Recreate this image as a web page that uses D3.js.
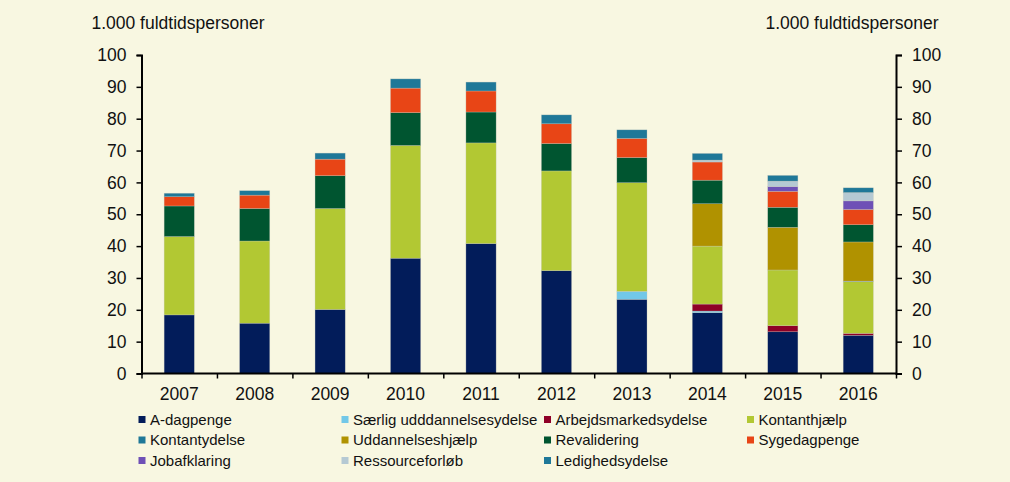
<!DOCTYPE html>
<html>
<head>
<meta charset="utf-8">
<script src="https://cdn.jsdelivr.net/npm/d3@7"></script>
<style>
body{margin:0;background:#f8f7e1;}
text{font-family:"Liberation Sans",Arial,sans-serif;fill:#111;}
</style>
</head>
<body>
<div class="canvas"></div>
<script>
// data, 1.000 fuldtidspersoner
const years=['2007','2008','2009','2010','2011','2012','2013','2014','2015','2016'];
const aDagpenge=[18.4,15.8,20.1,36.2,40.8,32.3,23.3,19.1,13.1,12.0];
const saerlig=[0,0,0,0,0,0,2.5,0.5,0,0];
const arbejdsmarked=[0,0,0,0,0,0,0,2.2,1.9,0.6];
const kontanthjaelp=[24.6,25.8,31.7,35.4,31.6,31.3,34.1,18.2,17.5,16.2];
const kontantydelse=[0,0,0,0,0,0,0,0,0,0.2];
const uddannelseshjaelp=[0,0,0,0,0,0,0,13.3,13.4,12.3];
const revalidering=[9.6,10.2,10.3,10.3,9.7,8.6,7.9,7.4,6.3,5.4];
const sygedagpenge=[2.9,4.2,5.2,7.7,6.6,6.2,6.0,5.7,5.0,4.8];
const jobafklaring=[0,0,0,0,0,0,0,0,1.5,2.7];
const ressourceforloeb=[0,0,0,0,0,0,0,0.6,1.7,2.6];
const ledighedsydelse=[1.1,1.4,1.9,2.9,2.8,2.8,2.7,2.1,1.8,1.5];
const yTicks=[0,10,20,30,40,50,60,70,80,90,100];
const unitLabel='1.000 fuldtidspersoner';

const series=[
  {key:'A-dagpenge',values:aDagpenge,color:'#021c5a'},
  {key:'Særlig udddannelsesydelse',values:saerlig,color:'#72c8e8'},
  {key:'Arbejdsmarkedsydelse',values:arbejdsmarked,color:'#8f0027'},
  {key:'Kontanthjælp',values:kontanthjaelp,color:'#b2c833'},
  {key:'Kontantydelse',values:kontantydelse,color:'#1f7898'},
  {key:'Uddannelseshjælp',values:uddannelseshjaelp,color:'#b09200'},
  {key:'Revalidering',values:revalidering,color:'#005530'},
  {key:'Sygedagpenge',values:sygedagpenge,color:'#e84516'},
  {key:'Jobafklaring',values:jobafklaring,color:'#6e50b6'},
  {key:'Ressourceforløb',values:ressourceforloeb,color:'#b5c9d3'},
  {key:'Ledighedsydelse',values:ledighedsydelse,color:'#1f7898'}
];

// one row per year for d3.stack
const table=years.map((yr,i)=>{
  const row={year:yr};
  series.forEach(s=>row[s.key]=s.values[i]);
  return row;
});

const width=1010,height=482;
const plot={left:141.5,right:896,top:55,bottom:373.5};

const svg=d3.select('.canvas').append('svg')
.attr('width',width)
.attr('height',height);

svg.append('rect').attr('width',width).attr('height',height).attr('fill','#f8f7e1');

const y=d3.scaleLinear().domain([0,100]).range([plot.bottom,plot.top]);
const x=d3.scaleBand().domain(years).range([plot.left,plot.right]).padding(0);
const xEdge=d3.scaleLinear().domain([0,years.length]).range([plot.left,plot.right]);

const stacked=d3.stack().keys(series.map(s=>s.key))(table);
const barW=x.bandwidth()*0.4;

// bars
svg.append('g').selectAll('g')
.data(stacked)
.enter().append('g')
.attr('fill',(d,i)=>series[i].color)
.selectAll('rect')
.data(d=>d)
.enter().append('rect')
.attr('x',d=>x(d.data.year)+(x.bandwidth()-barW)/2)
.attr('y',d=>y(d[1]))
.attr('width',barW)
.attr('height',d=>y(d[0])-y(d[1]))
.attr('stroke','#c9c9c0')
.attr('stroke-width',0.5)
.attr('stroke-opacity',d=>d[1]-d[0]>0?0.6:0);

// axes
const leftAxis=svg.append('g')
.attr('transform',`translate(${plot.left},0)`)
.call(d3.axisLeft(y).tickValues(yTicks).tickSize(5).tickPadding(10));

const rightAxis=svg.append('g')
.attr('transform',`translate(${plot.right},0)`)
.call(d3.axisRight(y).tickValues(yTicks).tickSize(6).tickPadding(10));

const xTicks=svg.append('g')
.attr('transform',`translate(0,${plot.bottom})`)
.call(d3.axisBottom(xEdge).tickValues(d3.range(years.length+1)).tickSize(5).tickFormat(''));

const xLabels=svg.append('g')
.attr('transform',`translate(0,${plot.bottom})`)
.call(d3.axisBottom(x).tickSize(0).tickPadding(14));
xLabels.select('.domain').remove();

[leftAxis,rightAxis,xTicks].forEach(g=>{
  g.select('.domain').attr('stroke','#000').attr('stroke-width',2);
  g.selectAll('.tick line').attr('stroke','#000').attr('stroke-width',1.5);
});
xTicks.select('.domain').attr('d',`M${plot.left},0H${plot.right}`);
svg.selectAll('.tick text')
.attr('font-family','"Liberation Sans",Arial,sans-serif')
.attr('font-size','17.5px')
.attr('fill','#111');

// unit labels
svg.append('text').attr('x',178).attr('y',29).attr('text-anchor','middle')
.attr('font-size','17.5px').text(unitLabel);
svg.append('text').attr('x',852).attr('y',29).attr('text-anchor','middle')
.attr('font-size','17.5px').text(unitLabel);

// legend, four columns, filled row by row
const colX=[138.5,341.5,544,747];
const rowY=[419.5,440,460.5];
const legend=svg.append('g').selectAll('g')
.data(series)
.enter().append('g')
.attr('transform',(d,i)=>`translate(${colX[i%4]},${rowY[Math.floor(i/4)]})`);

legend.append('rect')
.attr('x',0).attr('y',-3.5)
.attr('width',7).attr('height',7)
.attr('fill',d=>d.color);

legend.append('text')
.attr('x',11.5).attr('y',0)
.attr('dy','0.35em')
.attr('font-size','15px')
.text(d=>d.key);
</script>
</body>
</html>
